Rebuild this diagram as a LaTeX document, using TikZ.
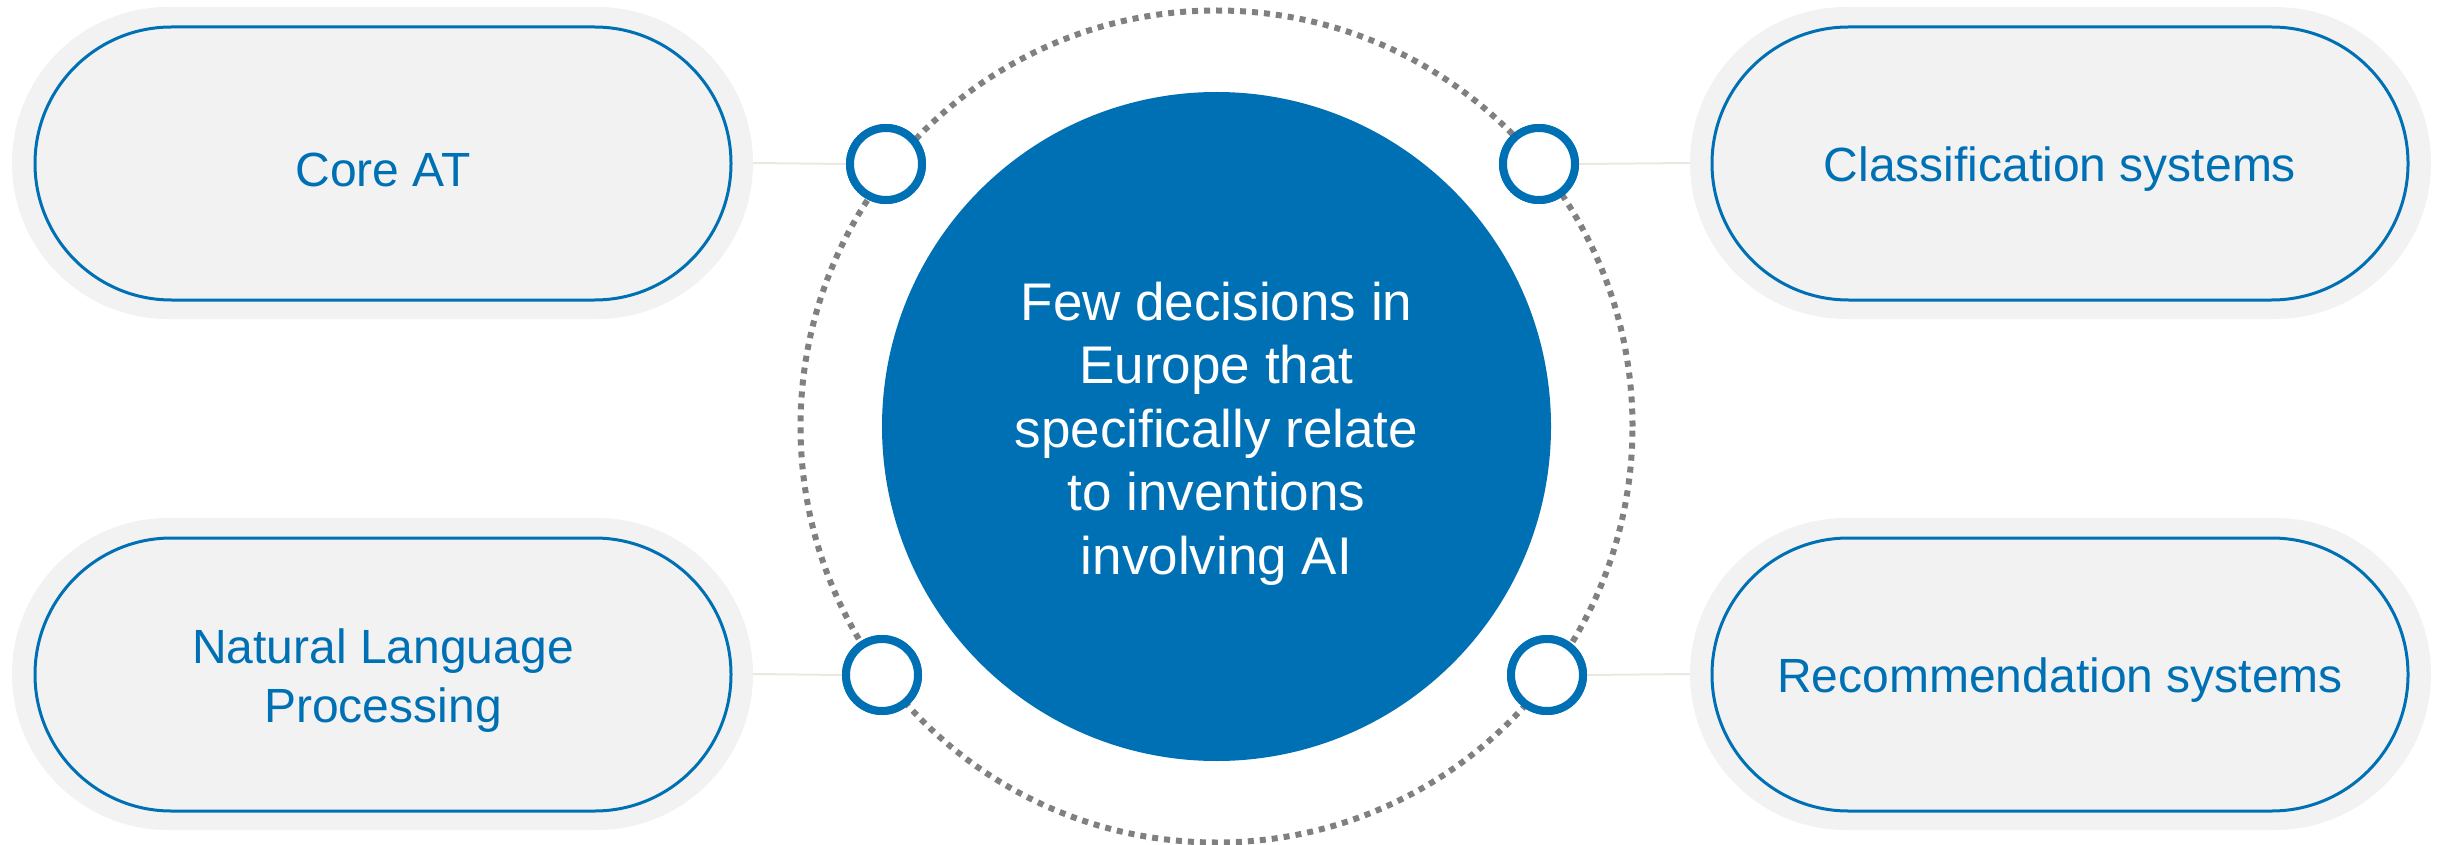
\documentclass[tikz,border=0pt]{standalone}
\usepackage{fontspec}
\setmainfont{Liberation Sans}
\definecolor{ublue}{RGB}{0,112,181}
\definecolor{pillgray}{RGB}{242,242,242}
\definecolor{dotgray}{RGB}{128,128,128}
\definecolor{linkgray}{RGB}{234,232,224}
\tikzset{
  outerpill/.style={rectangle, fill=pillgray, draw=none, minimum width=741pt, minimum height=312pt, rounded corners=155.9pt, inner sep=0pt},
  innerpill/.style={rectangle, fill=pillgray, draw=ublue, line width=3pt, minimum width=696pt, minimum height=273pt, rounded corners=136.4pt, inner sep=0pt},
  pilltext/.style={text=ublue, align=center, inner sep=0pt, yshift=-6pt, font=\fontsize{48pt}{59pt}\selectfont},
  ring/.style={circle, draw=ublue, fill=white, line width=8pt, minimum size=72pt, inner sep=0pt},
  link/.style={draw=linkgray, line width=2pt},
  hub/.style={circle, fill=ublue, draw=none, minimum size=669pt, inner sep=0pt},
  hubtext/.style={text=white, align=center, inner sep=0pt, yshift=-7pt, font=\fontsize{53pt}{63.5pt}\selectfont},
  orbit/.style={draw=dotgray, line width=6pt, dash pattern=on 6pt off 6pt}
}
\begin{document}
\begin{tikzpicture}[x=1pt,y=-1pt]
\useasboundingbox (0,0) rectangle (2443,845);
% dotted orbit
\coordinate (c) at (1216.5,426.5);
\draw[orbit] (c) circle (416pt);
% outer pills
\node[outerpill] (oTL) at (382.5,163) {};
\node[outerpill] (oBL) at (382.5,674) {};
\node[outerpill] (oTR) at (2060.5,163) {};
\node[outerpill] (oBR) at (2060.5,674) {};
% small rings
\node[ring] (rTL) at (886,164) {};
\node[ring] (rBL) at (882,675) {};
\node[ring] (rTR) at (1539,164) {};
\node[ring] (rBR) at (1547,675) {};
% connectors
\draw[link] (oTL.east) -- (rTL.west);
\draw[link] (oBL.east) -- (rBL.west);
\draw[link] (rTR.east) -- (oTR.west);
\draw[link] (rBR.east) -- (oBR.west);
% inner pills
\node[innerpill] (pTL) at (383,163.5) {};
\node[innerpill] (pBL) at (383,674.5) {};
\node[innerpill] (pTR) at (2060,163.5) {};
\node[innerpill] (pBR) at (2060,674.5) {};
\node[pilltext] (tTL) at (pTL) {Core AT};
\node[pilltext] (tBL) at (pBL) {Natural Language\\Processing};
\node[pilltext] (tTR) at (pTR) {Classification systems};
\node[pilltext] (tBR) at (pBR) {Recommendation systems};
% hub
\node[hub] (hub) at (c) {};
\node[hubtext] (hubt) at (hub) {Few decisions in\\Europe that\\specifically relate\\to inventions\\involving AI};
% rings redrawn on top
\node[ring] at (rTL) {};
\node[ring] at (rBL) {};
\node[ring] at (rTR) {};
\node[ring] at (rBR) {};
\end{tikzpicture}
\end{document}
